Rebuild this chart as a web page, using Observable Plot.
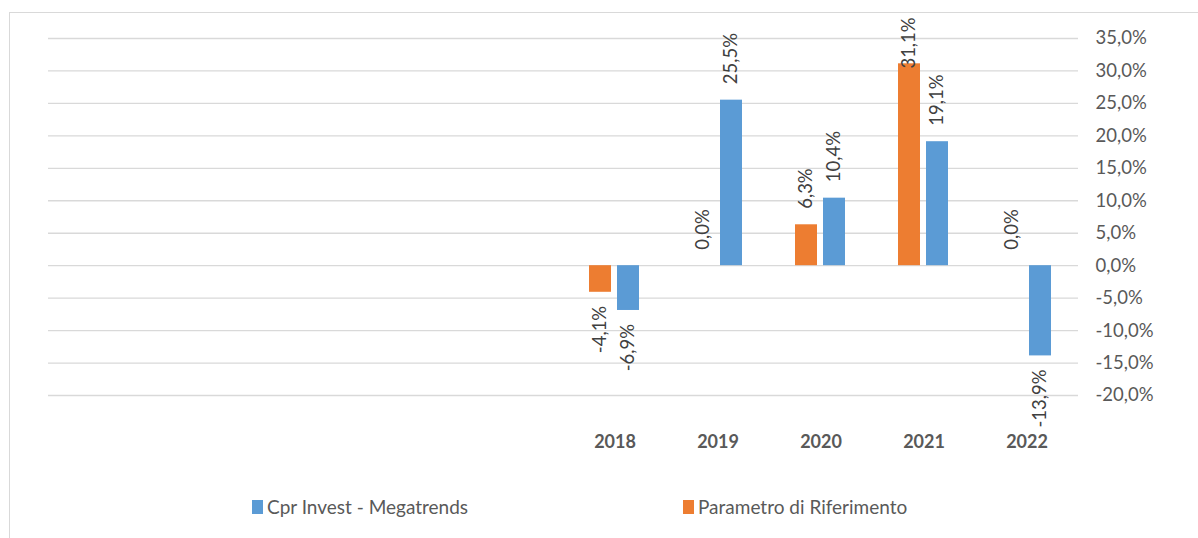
<!DOCTYPE html>
<html>
<head>
<meta charset="utf-8">
<script src="https://cdn.jsdelivr.net/npm/d3@7"></script>
<script src="https://cdn.jsdelivr.net/npm/@observablehq/plot@0.6"></script>
<style>
  body { margin: 0; background: #fff; font-family: Lato, "Open Sans", sans-serif; }
  #wrap { position: relative; width: 1198px; height: 538px; overflow: hidden; background: #fff; }
  #chart { position: absolute; left: 0; top: 0; }
  #frame { position: absolute; left: 9px; top: 12px; right: -4px; bottom: -4px;
           border-left: 1.5px solid #d9d9d9; border-top: 1.5px solid #d9d9d9; pointer-events: none; z-index: 2; }
  #legend { position: absolute; left: 0; top: 470px; width: 1198px; height: 68px; }
  .item { position: absolute; top: 26px; display: flex; align-items: center; font-size: 19px; color: #595959; line-height: 22px; }
  .sw { width: 11px; height: 14px; margin-right: 4px; }
</style>
</head>
<body>
<div id="wrap">
  <div id="chart"></div>
  <div id="legend"></div>
  <div id="frame"></div>
</div>
<script>
// ---- data ----
const years = [2013, 2014, 2015, 2016, 2017, 2018, 2019, 2020, 2021, 2022];
const yearLabels = ["", "", "", "", "", "2018", "2019", "2020", "2021", "2022"];
const seriesNames = ["Cpr Invest - Megatrends", "Parametro di Riferimento"];
const fundValues  = [null, null, null, null, null, -6.9, 25.5, 10.4, 19.1, -13.9];
const benchValues = [null, null, null, null, null, -4.1, 0.0, 6.3, 31.1, 0.0];
const seriesColors = ["#5b9bd5", "#ed7d31"];
const yTicks = [-20, -15, -10, -5, 0, 5, 10, 15, 20, 25, 30, 35];

const fmt = v => v.toFixed(1).replace(".", ",") + "%";

const rows = [];
years.forEach((yr, i) => {
  if (benchValues[i] != null) rows.push({year: yr, series: seriesNames[1], value: benchValues[i]});
  if (fundValues[i] != null) rows.push({year: yr, series: seriesNames[0], value: fundValues[i]});
});
const gridRows = years.flatMap(yr => yTicks.map(t => ({year: yr, t})));
const yearRows = years.map((yr, i) => ({year: yr, label: yearLabels[i]}));
const yMax = d3.max(yTicks);
const labelCeil = yMax - 7.1; // keep labels inside the plot area, as Excel does

const chart = Plot.plot({
  width: 1198,
  height: 470,
  marginLeft: 46,
  marginRight: 118,
  marginTop: 38,
  marginBottom: 75,
  style: {background: "none", fontFamily: "Lato, 'Open Sans', sans-serif", fontSize: "18.5px", color: "#595959", overflow: "visible"},
  fx: {domain: years, padding: 0, axis: null, label: null},
  x: {domain: [seriesNames[1], seriesNames[0]], paddingInner: 0.207, paddingOuter: 0.887, axis: null, label: null},
  y: {domain: [d3.min(yTicks), yMax], axis: "right", ticks: yTicks, tickSize: 0, tickPadding: 17, tickFormat: fmt, label: null},
  color: {domain: seriesNames, range: seriesColors},
  marks: [
    Plot.ruleY(gridRows, {fx: "year", y: "t", stroke: "#d9d9d9", strokeWidth: 1.3}),
    Plot.barY(rows, {fx: "year", x: "series", y: "value", fill: "series"}),
    Plot.text(rows.filter(d => d.value >= 0), {
      fx: "year", x: "series", y: d => Math.min(d.value, labelCeil), text: d => fmt(d.value),
      rotate: -90, textAnchor: "start", dy: -16, fill: "#404040", fontSize: 18.5
    }),
    Plot.text(rows.filter(d => d.value < 0), {
      fx: "year", x: "series", y: "value", text: d => fmt(d.value),
      rotate: -90, textAnchor: "end", dy: 13.5, fill: "#404040", fontSize: 18.5
    }),
    Plot.text(yearRows, {
      fx: "year", text: "label", frameAnchor: "bottom", dy: 52,
      fontWeight: "bold", fontSize: 18, fill: "#595959"
    })
  ]
});
document.getElementById("chart").appendChild(chart);

// ---- legend ----
const legendPos = [252, 683];
const legend = document.getElementById("legend");
seriesNames.forEach((name, i) => {
  const item = document.createElement("div");
  item.className = "item";
  item.style.left = legendPos[i] + "px";
  const sw = document.createElement("span");
  sw.className = "sw";
  sw.style.background = seriesColors[i];
  const tx = document.createElement("span");
  tx.textContent = name;
  item.appendChild(sw);
  item.appendChild(tx);
  legend.appendChild(item);
});
</script>
</body>
</html>
